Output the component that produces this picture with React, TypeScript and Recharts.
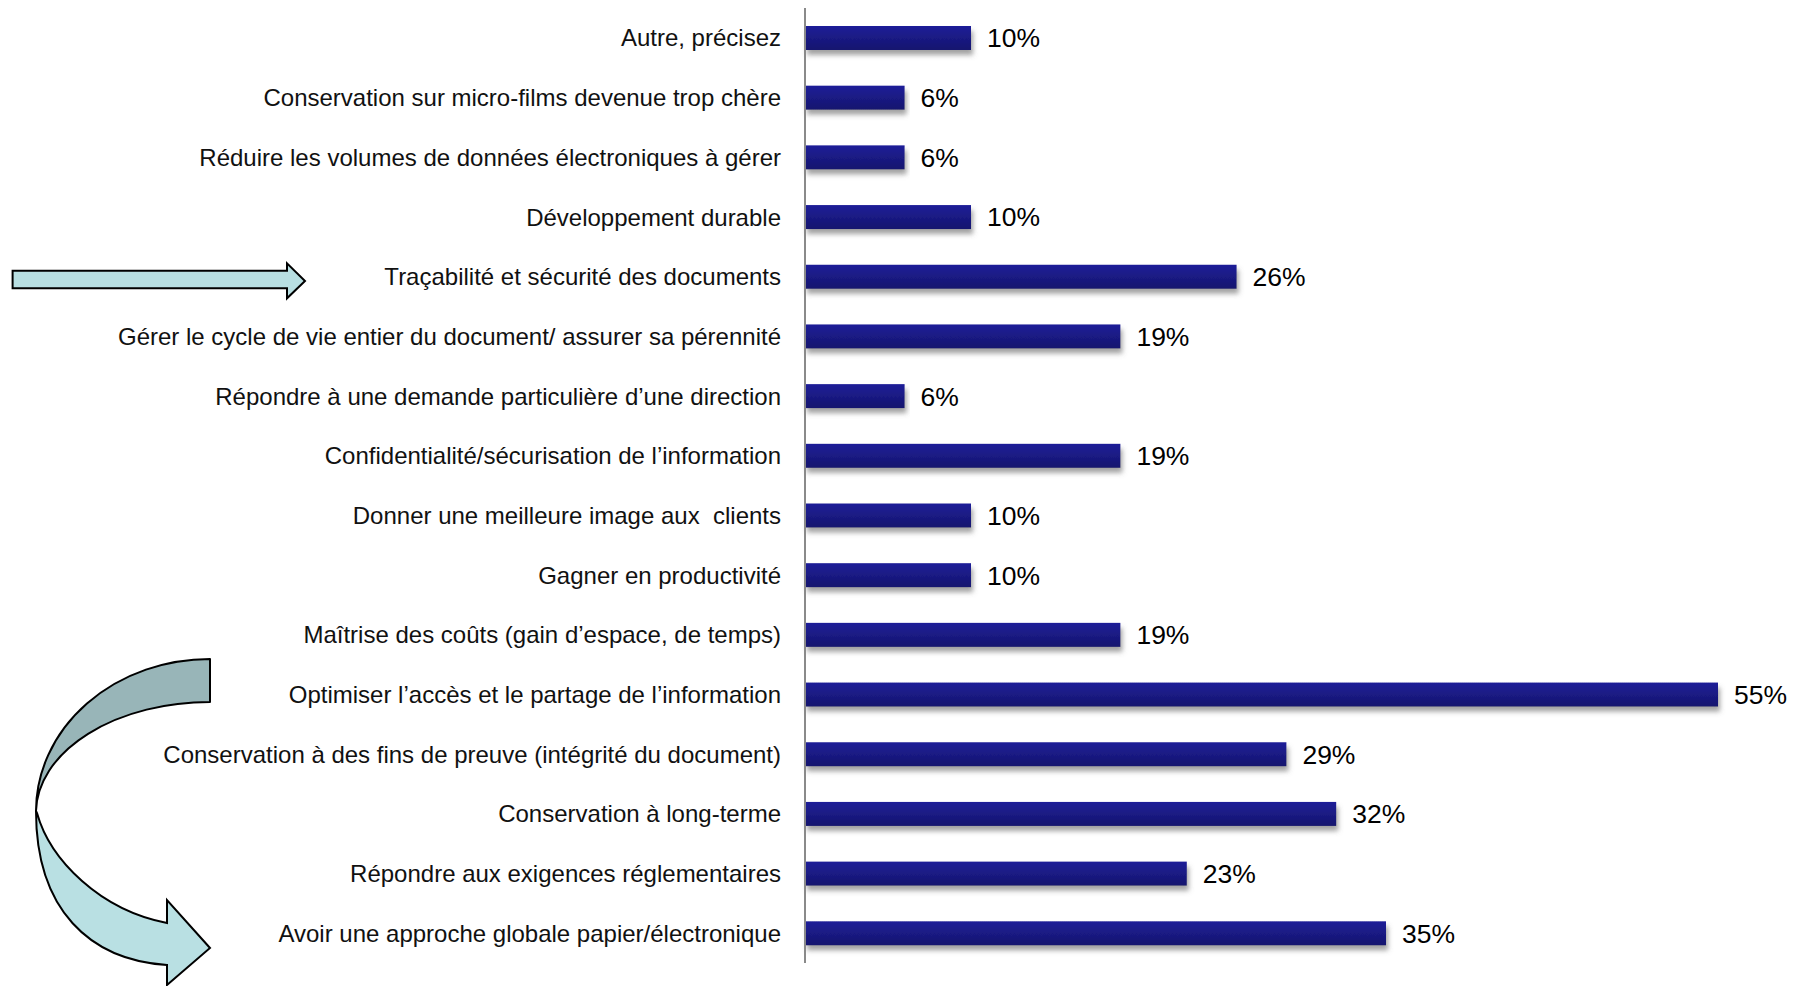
import React from "react";
import { Bar, BarChart, LabelList, XAxis, YAxis } from "recharts";

const categories = [
  "Autre, précisez",
  "Conservation sur micro-films devenue trop chère",
  "Réduire les volumes de données électroniques à gérer",
  "Développement durable",
  "Traçabilité et sécurité des documents",
  "Gérer le cycle de vie entier du document/ assurer sa pérennité",
  "Répondre à une demande particulière d’une direction",
  "Confidentialité/sécurisation de l’information",
  "Donner une meilleure image aux  clients",
  "Gagner en productivité",
  "Maîtrise des coûts (gain d’espace, de temps)",
  "Optimiser l’accès et le partage de l’information",
  "Conservation à des fins de preuve (intégrité du document)",
  "Conservation à long-terme",
  "Répondre aux exigences réglementaires",
  "Avoir une approche globale papier/électronique",
];

const values = [10, 6, 6, 10, 26, 19, 6, 19, 10, 10, 19, 55, 29, 32, 23, 35];

const data = categories.map((name, i) => ({ name, value: values[i] }));

const FONT = "'Liberation Sans', Arial, sans-serif";

function CategoryTick(props: any) {
  const { x, y, payload } = props;
  return (
    <text
      x={x - 24}
      y={y}
      dy="0.36em"
      textAnchor="end"
      fontSize={24}
      fontFamily={FONT}
      fill="#111"
      style={{ whiteSpace: "pre" }}
    >
      {payload.value}
    </text>
  );
}

function ShadowBar(props: any) {
  const { x, y, width, height } = props;
  return (
    <rect
      x={x}
      y={y}
      width={width}
      height={height}
      fill="url(#barGrad)"
      filter="url(#barShadow)"
    />
  );
}

function Arrows() {
  return (
    <svg
      width={1796}
      height={986}
      style={{ position: "absolute", left: 0, top: 0, pointerEvents: "none" }}
    >
      {/* straight arrow */}
      <path
        d="M12.6,270.7 L287,270.7 L287,263.3 L305,281 L287,298.3 L287,288.3 L12.6,288.3 Z"
        fill="#b8dfe2"
        stroke="#000"
        strokeWidth={2}
      />
      {/* curved arrow: back part */}
      <path
        d="M210,659 A174,152 0 0 0 36,811 A174,111 0 0 1 210,702 Z"
        fill="#98b5b8"
        stroke="#000"
        strokeWidth={2}
        strokeLinejoin="round"
      />
      {/* curved arrow: front part with head */}
      <path
        d="M36,811 C36,910 90,960 167,965 L167,985 L210,948 L167,900 L167,923 C100,910 50,860 37,813 Z"
        fill="#b9e0e3"
        stroke="#000"
        strokeWidth={2}
        strokeLinejoin="miter"
      />
    </svg>
  );
}

export default function App() {
  return (
    <div style={{ position: "relative", width: 1796, height: 986, background: "#fff" }}>
      <style>{`body{margin:0}`}</style>
      <BarChart
        width={1796}
        height={986}
        data={data}
        layout="vertical"
        margin={{ top: 8, right: 78, bottom: 23, left: 0 }}
      >
        <defs>
          <linearGradient id="barGrad" x1="0" y1="0" x2="0" y2="1">
            <stop offset="0%" stopColor="#1f1f98" />
            <stop offset="100%" stopColor="#15156e" />
          </linearGradient>
          <filter id="barShadow" x="-5%" y="-30%" width="110%" height="180%">
            <feDropShadow dx="2" dy="5" stdDeviation="2.5" floodColor="#666" floodOpacity="0.6" />
          </filter>
        </defs>
        <XAxis type="number" domain={[0, 55]} hide />
        <YAxis
          type="category"
          dataKey="name"
          width={805}
          tickLine={false}
          tickSize={0}
          tickMargin={0}
          axisLine={{ stroke: "#8a8a8a", strokeWidth: 2 }}
          tick={<CategoryTick />}
          interval={0}
        />
        <Bar
          dataKey="value"
          barSize={24}
          shape={<ShadowBar />}
          isAnimationActive={false}
        >
          <LabelList
            dataKey="value"
            position="right"
            offset={16}
            formatter={(v: any) => `${v}%`}
            fontSize={26.5}
            fontFamily={FONT}
            fill="#000"
          />
        </Bar>
      </BarChart>
      <Arrows />
    </div>
  );
}
